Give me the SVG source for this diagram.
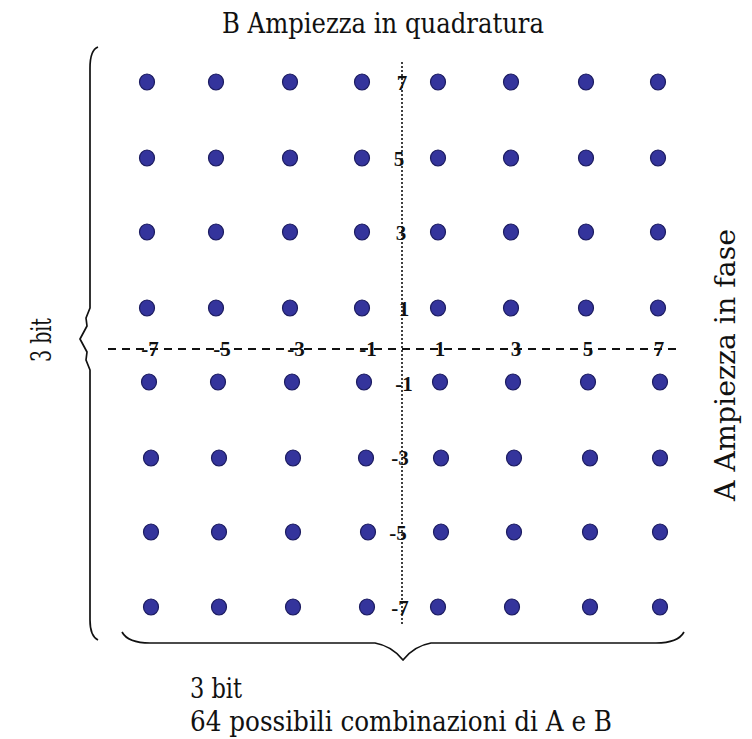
<svg xmlns="http://www.w3.org/2000/svg" width="752" height="739" viewBox="0 0 752 739">
<style>
.dot{fill:#34349c;stroke:#1c1c60;stroke-width:1.2}
.lbl{font-family:"Liberation Serif","Times New Roman",serif;font-weight:bold;font-size:21px;fill:#111;text-anchor:middle}
.txt{font-family:"DejaVu Serif","Liberation Serif",serif;font-size:27px;fill:#111}
.brace{fill:none;stroke:#111;stroke-width:1.7;stroke-linejoin:round}
</style>
<rect width="752" height="739" fill="#ffffff"/>
<g id="title">
<text class="txt" x="222" y="33" textLength="322" lengthAdjust="spacingAndGlyphs">B Ampiezza in quadratura</text>
</g>
<g id="right-label">
<text class="txt" transform="translate(735,365) rotate(-90)" text-anchor="middle" textLength="272" lengthAdjust="spacingAndGlyphs">A Ampiezza in fase</text>
</g>
<g id="left-label">
<text class="txt" transform="translate(51,340) rotate(-90)" text-anchor="middle" textLength="44" lengthAdjust="spacingAndGlyphs">3 bit</text>
</g>
<g id="bottom-label">
<text class="txt" x="190" y="698" textLength="52" lengthAdjust="spacingAndGlyphs">3 bit</text>
<text class="txt" x="190" y="731" textLength="422" lengthAdjust="spacingAndGlyphs">64 possibili combinazioni di A e B</text>
</g>
<g id="axes">
<line x1="402" y1="62" x2="402" y2="626" stroke="#111" stroke-width="1.6" stroke-dasharray="2 2"/>
<line x1="108" y1="349" x2="682" y2="349" stroke="#111" stroke-width="1.8" stroke-dasharray="8 6"/>
</g>
<g id="braces">
<path class="brace" d="M98,47 Q90,50 90,68 L90,308 L86,318 L87,326 L80,339 L87,352 L86,360 L90,370 L90,620 Q90,636 98,640"/>
<path class="brace" d="M122,632 Q128,643 150,643 L375,643 Q392,646 403,660 Q414,646 431,643 L656,643 Q678,643 684,632"/>
</g>
<g id="dots">
<ellipse class="dot" cx="147" cy="82" rx="7.5" ry="8"/>
<ellipse class="dot" cx="216" cy="82" rx="7.5" ry="8"/>
<ellipse class="dot" cx="290" cy="82" rx="7.5" ry="8"/>
<ellipse class="dot" cx="362" cy="82" rx="7.5" ry="8"/>
<ellipse class="dot" cx="438" cy="82" rx="7.5" ry="8"/>
<ellipse class="dot" cx="511" cy="82" rx="7.5" ry="8"/>
<ellipse class="dot" cx="586" cy="82" rx="7.5" ry="8"/>
<ellipse class="dot" cx="658" cy="82" rx="7.5" ry="8"/>
<ellipse class="dot" cx="147" cy="158" rx="7.5" ry="8"/>
<ellipse class="dot" cx="216" cy="158" rx="7.5" ry="8"/>
<ellipse class="dot" cx="290" cy="158" rx="7.5" ry="8"/>
<ellipse class="dot" cx="362" cy="158" rx="7.5" ry="8"/>
<ellipse class="dot" cx="438" cy="158" rx="7.5" ry="8"/>
<ellipse class="dot" cx="511" cy="158" rx="7.5" ry="8"/>
<ellipse class="dot" cx="586" cy="158" rx="7.5" ry="8"/>
<ellipse class="dot" cx="658" cy="158" rx="7.5" ry="8"/>
<ellipse class="dot" cx="147" cy="232" rx="7.5" ry="8"/>
<ellipse class="dot" cx="216" cy="232" rx="7.5" ry="8"/>
<ellipse class="dot" cx="290" cy="232" rx="7.5" ry="8"/>
<ellipse class="dot" cx="362" cy="232" rx="7.5" ry="8"/>
<ellipse class="dot" cx="438" cy="232" rx="7.5" ry="8"/>
<ellipse class="dot" cx="511" cy="232" rx="7.5" ry="8"/>
<ellipse class="dot" cx="586" cy="232" rx="7.5" ry="8"/>
<ellipse class="dot" cx="658" cy="232" rx="7.5" ry="8"/>
<ellipse class="dot" cx="147" cy="308" rx="7.5" ry="8"/>
<ellipse class="dot" cx="216" cy="308" rx="7.5" ry="8"/>
<ellipse class="dot" cx="290" cy="308" rx="7.5" ry="8"/>
<ellipse class="dot" cx="362" cy="308" rx="7.5" ry="8"/>
<ellipse class="dot" cx="438" cy="308" rx="7.5" ry="8"/>
<ellipse class="dot" cx="511" cy="308" rx="7.5" ry="8"/>
<ellipse class="dot" cx="586" cy="308" rx="7.5" ry="8"/>
<ellipse class="dot" cx="658" cy="308" rx="7.5" ry="8"/>
<ellipse class="dot" cx="149" cy="382" rx="7.5" ry="8"/>
<ellipse class="dot" cx="218" cy="382" rx="7.5" ry="8"/>
<ellipse class="dot" cx="292" cy="382" rx="7.5" ry="8"/>
<ellipse class="dot" cx="364" cy="382" rx="7.5" ry="8"/>
<ellipse class="dot" cx="440" cy="382" rx="7.5" ry="8"/>
<ellipse class="dot" cx="513" cy="382" rx="7.5" ry="8"/>
<ellipse class="dot" cx="588" cy="382" rx="7.5" ry="8"/>
<ellipse class="dot" cx="660" cy="382" rx="7.5" ry="8"/>
<ellipse class="dot" cx="151" cy="458" rx="7.5" ry="8"/>
<ellipse class="dot" cx="219" cy="458" rx="7.5" ry="8"/>
<ellipse class="dot" cx="293" cy="458" rx="7.5" ry="8"/>
<ellipse class="dot" cx="366" cy="458" rx="7.5" ry="8"/>
<ellipse class="dot" cx="441" cy="458" rx="7.5" ry="8"/>
<ellipse class="dot" cx="514" cy="458" rx="7.5" ry="8"/>
<ellipse class="dot" cx="590" cy="458" rx="7.5" ry="8"/>
<ellipse class="dot" cx="660" cy="458" rx="7.5" ry="8"/>
<ellipse class="dot" cx="151" cy="532" rx="7.5" ry="8"/>
<ellipse class="dot" cx="219" cy="532" rx="7.5" ry="8"/>
<ellipse class="dot" cx="293" cy="532" rx="7.5" ry="8"/>
<ellipse class="dot" cx="368" cy="532" rx="7.5" ry="8"/>
<ellipse class="dot" cx="441" cy="532" rx="7.5" ry="8"/>
<ellipse class="dot" cx="514" cy="532" rx="7.5" ry="8"/>
<ellipse class="dot" cx="590" cy="532" rx="7.5" ry="8"/>
<ellipse class="dot" cx="660" cy="532" rx="7.5" ry="8"/>
<ellipse class="dot" cx="151" cy="607" rx="7.5" ry="8"/>
<ellipse class="dot" cx="219" cy="607" rx="7.5" ry="8"/>
<ellipse class="dot" cx="293" cy="607" rx="7.5" ry="8"/>
<ellipse class="dot" cx="367" cy="607" rx="7.5" ry="8"/>
<ellipse class="dot" cx="438" cy="607" rx="7.5" ry="8"/>
<ellipse class="dot" cx="512" cy="607" rx="7.5" ry="8"/>
<ellipse class="dot" cx="590" cy="607" rx="7.5" ry="8"/>
<ellipse class="dot" cx="660" cy="607" rx="7.5" ry="8"/>
</g>
<g id="axis-labels">
<text class="lbl" x="402" y="90">7</text>
<text class="lbl" x="399" y="166">5</text>
<text class="lbl" x="401" y="240">3</text>
<text class="lbl" x="404" y="316">1</text>
<text class="lbl" x="404" y="391">-1</text>
<text class="lbl" x="400" y="465">-3</text>
<text class="lbl" x="398" y="540">-5</text>
<text class="lbl" x="400" y="615">-7</text>
<text class="lbl" x="150" y="356">-7</text>
<text class="lbl" x="222" y="356">-5</text>
<text class="lbl" x="296" y="356">-3</text>
<text class="lbl" x="368" y="356">-1</text>
<text class="lbl" x="440" y="356">1</text>
<text class="lbl" x="516" y="356">3</text>
<text class="lbl" x="588" y="356">5</text>
<text class="lbl" x="659" y="356">7</text>
</g>
</svg>
